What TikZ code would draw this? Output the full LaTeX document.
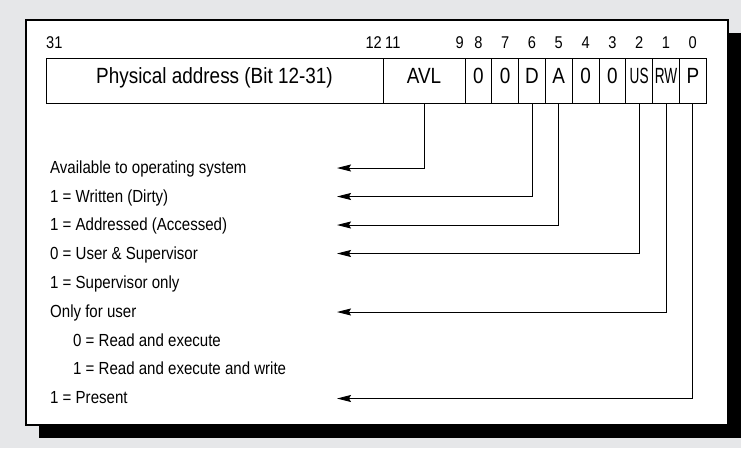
\documentclass[tikz,border=0pt]{standalone}
\usepackage{fontspec}
\setmainfont{Liberation Sans}[FakeStretch=0.86]
\usepackage{graphicx}
\usetikzlibrary{positioning,arrows.meta}
\definecolor{bggray}{RGB}{230,231,233}
\newcommand{\narrow}[1]{\scalebox{0.72}[1]{#1}}

\begin{document}
\begin{tikzpicture}[
  x=1pt, y=-1pt,
  >={Stealth[length=14pt,width=7pt,inset=2pt]},
  cell/.style={draw, line width=0.9pt, minimum height=45pt, inner sep=0pt, outer sep=0pt,
    text height=0.75em, text depth=0.2em, font=\fontsize{22}{24}\selectfont},
  bit/.style={cell, minimum width=26.8pt},
  num/.style={inner sep=0pt, font=\fontsize{17}{18}\selectfont},
  lbl/.style={anchor=base west, inner sep=0pt, font=\fontsize{17.5}{18}\selectfont},
  arr/.style={->, line width=0.9pt},
]

% Frame with shadow
\useasboundingbox (0,0) rectangle (741,448);
\fill[bggray] (0,0) rectangle (741,448);
\fill[black] (39,33) rectangle (741,438);
\draw[fill=white, line width=1.2pt] (26,20) rectangle (728,425);

% Register cells
\node[cell, minimum width=337pt, anchor=west] (addr) at (46,80.5) {Physical address (Bit 12-31)};
\node[cell, minimum width=82pt, right=0pt of addr] (avl) {AVL};
\node[bit, right=0pt of avl] (b8) {0};
\node[bit, right=0pt of b8] (b7) {0};
\node[bit, right=0pt of b7] (d) {D};
\node[bit, right=0pt of d] (a) {A};
\node[bit, right=0pt of a] (b4) {0};
\node[bit, right=0pt of b4] (b3) {0};
\node[bit, right=0pt of b3] (us) {\narrow{US}};
\node[bit, right=0pt of us] (rw) {\narrow{RW}};
\node[bit, right=0pt of rw] (p) {P};

% Bit numbers
\node[num, anchor=base west] (n31) at ([yshift=9.5pt]addr.north west) {31};
\node[num, anchor=base east] (n12) at ([yshift=9.5pt, xshift=-1pt]addr.north east) {12};
\node[num, anchor=base west] (n11) at ([yshift=9.5pt, xshift=2pt]avl.north west) {11};
\node[num, anchor=base east] (n9) at ([yshift=9.5pt, xshift=-1pt]avl.north east) {9};
\foreach \c/\n in {b8/8, b7/7, d/6, a/5, b4/4, b3/3, us/2, rw/1, p/0}
  \node[num, anchor=base] (n\n) at ([yshift=9.5pt]\c.north) {\n};

% Meaning of the flags
\node[lbl] (lavl) at (50,173.5) {Available to operating system};
\node[lbl] (ld) at (50,202) {1 = Written (Dirty)};
\node[lbl] (la) at (50,230.5) {1 = Addressed (Accessed)};
\node[lbl] (lus) at (50,259) {0 = User \& Supervisor};
\node[lbl] (lsup) at (50,288) {1 = Supervisor only};
\node[lbl] (lrw) at (50,317) {Only for user};
\node[lbl] (lrx) at (73,346) {0 = Read and execute};
\node[lbl] (lrwx) at (73,374.5) {1 = Read and execute and write};
\node[lbl] (lp) at (50,403) {1 = Present};

% Arrow ends
\coordinate (tavl) at (337,168);
\coordinate (td) at (337,196.5);
\coordinate (ta) at (337,225);
\coordinate (tus) at (337,253.5);
\coordinate (trw) at (337,312);
\coordinate (tp) at (337,398.5);

% Connectors
\draw[arr] (avl.south) |- (tavl);
\draw[arr] (d.south) |- (td);
\draw[arr] (a.south) |- (ta);
\draw[arr] (us.south) |- (tus);
\draw[arr] (rw.south) |- (trw);
\draw[arr] (p.south) |- (tp);

\end{tikzpicture}
\end{document}
